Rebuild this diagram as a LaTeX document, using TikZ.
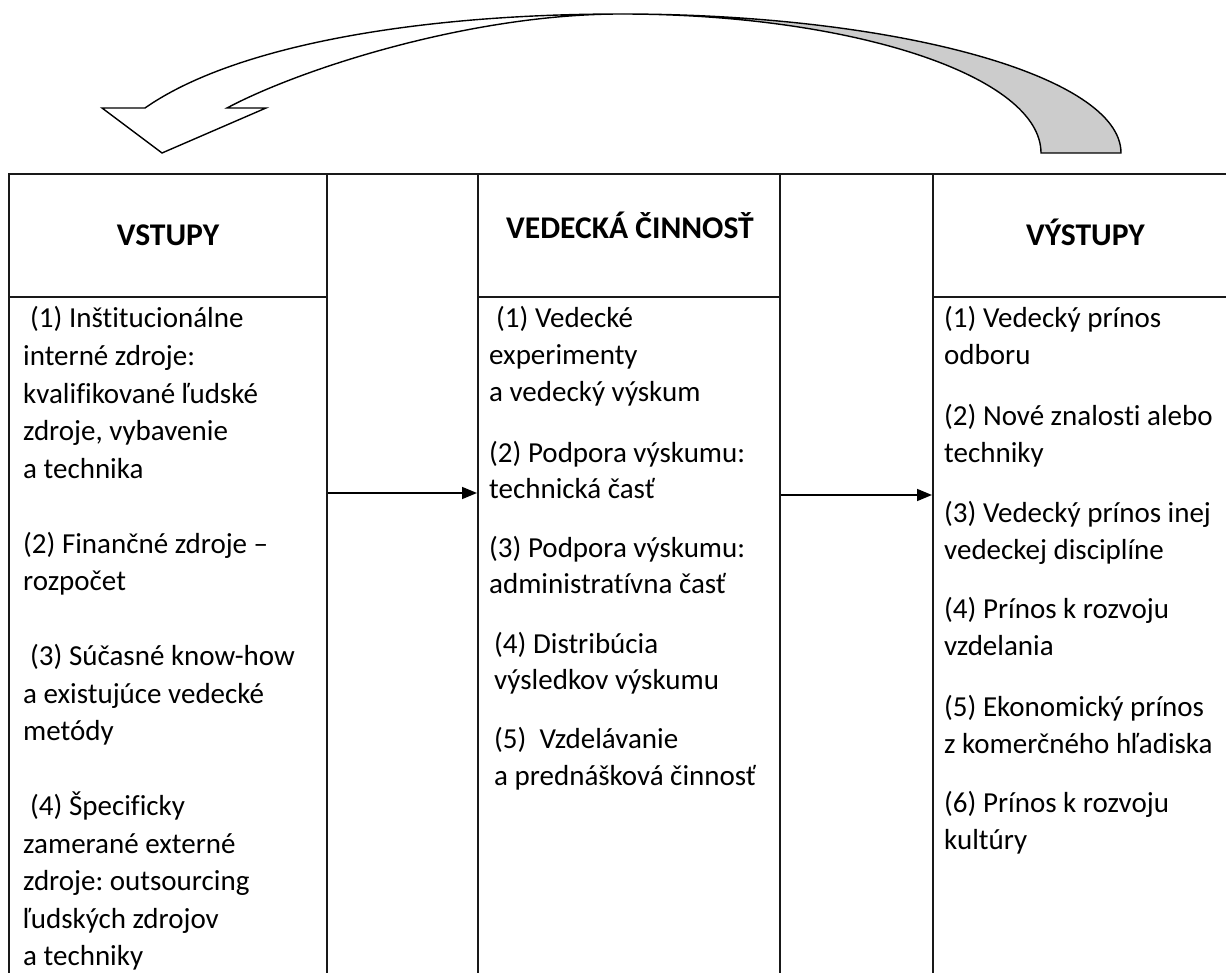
\documentclass[tikz,border=0pt]{standalone}
\usepackage{fontspec}
\setmainfont{Carlito}[Ligatures={NoCommon}]
\usetikzlibrary{arrows.meta}
\definecolor{bandgrey}{RGB}{204,204,204}
\frenchspacing
\tikzset{
  tbl/.style={line width=1.7pt, black!90},
  hdr/.style={font=\fontsize{31.6}{38}\selectfont\bfseries, inner sep=0pt, anchor=base},
  body/.style={font=\fontsize{29}{36}\selectfont, inner sep=0pt, anchor=base west},
  conn/.style={line width=1.6pt, -{Triangle[length=15pt,width=12pt]}},
  bandline/.style={line width=1.4pt, line join=miter},
}
\begin{document}
\begin{tikzpicture}[x=1pt,y=-1pt]
\useasboundingbox (0,0) rectangle (1226,973);

% curved return arrow
\coordinate (top) at (621,14);
\coordinate (rOut) at (1121,153);
\coordinate (rIn) at (1041,153);
\coordinate (lOut) at (145,108);
\coordinate (lIn) at (227,108);
\coordinate (barbL) at (102,108);
\coordinate (tip) at (162,153);
\coordinate (barbR) at (266,108);
\fill[bandgrey] (top) arc[start angle=90, end angle=0, x radius=500pt, y radius=139pt]
  -- (rIn) arc[start angle=0, end angle=90, x radius=420pt, y radius=139pt] -- cycle;
\draw[bandline] (rOut) arc[start angle=0, end angle=90, x radius=500pt, y radius=139pt]
  .. controls (420,14) and (235,45) .. (lOut)
  -- (barbL) -- (tip) -- (barbR) -- (lIn)
  .. controls (300,69) and (470,14) .. (top)
  arc[start angle=90, end angle=0, x radius=420pt, y radius=139pt] -- cycle;

% table lines
\draw[tbl] (9,973) -- (9,174) -- (1230,174);
\draw[tbl] (327,174) -- (327,973);
\draw[tbl] (478,174) -- (478,973);
\draw[tbl] (780,174) -- (780,973);
\draw[tbl] (933,174) -- (933,973);
\draw[tbl] (9,297) -- (327,297);
\draw[tbl] (478,297) -- (780,297);
\draw[tbl] (933,297) -- (1230,297);

% headers
\node[hdr] (hin)  at (168,246)  {VSTUPY};
\node[hdr] (hmid) at (630,239)  {VEDECKÁ ČINNOSŤ};
\node[hdr] (hout) at (1085.5,246) {VÝSTUPY};

% inputs column
\foreach \yy/\xx/\txt [count=\i] in {
  328/30/{(1) Inštitucionálne},
  365.5/23/{interné zdroje:},
  403/23/{kvalifikované ľudské},
  440.5/23/{zdroje, vybavenie},
  478/23/{a technika},
  553/23/{(2) Finančné zdroje –},
  590.5/23/{rozpočet},
  665.5/30/{(3) Súčasné know-how},
  703/23/{a existujúce vedecké},
  740.5/23/{metódy},
  815.5/30/{(4) Špecificky},
  853/23/{zamerané externé},
  890.5/23/{zdroje: outsourcing},
  928/23/{ľudských zdrojov},
  965.5/23/{a techniky}}
  \node[body] (in\i) at (\xx,\yy) {\txt};

% activity column
\foreach \yy/\xx/\txt [count=\i] in {
  328/496/{(1) Vedecké},
  365/489/{experimenty},
  402/489/{a vedecký výskum},
  462/489/{(2) Podpora výskumu:},
  498/489/{technická časť},
  557/489/{(3) Podpora výskumu:},
  593/489/{administratívna časť},
  653/494/{(4) Distribúcia},
  689/494/{výsledkov výskumu},
  748/494/{(5)\ \ Vzdelávanie},
  785/494/{a prednášková činnosť}}
  \node[body] (act\i) at (\xx,\yy) {\txt};

% outputs column
\foreach \yy/\txt [count=\i] in {
  328/{(1) Vedecký prínos},
  365/{odboru},
  425/{(2) Nové znalosti alebo},
  462/{techniky},
  522/{(3) Vedecký prínos inej},
  559/{vedeckej disciplíne},
  618.5/{(4) Prínos k rozvoju},
  655.5/{vzdelania},
  716/{(5) Ekonomický prínos},
  753/{z komerčného hľadiska},
  812/{(6) Prínos k rozvoju},
  849/{kultúry}}
  \node[body] (out\i) at (944,\yy) {\txt};

% connectors
\coordinate (inR)   at (328,493);
\coordinate (actL)  at (477,493);
\coordinate (actR)  at (781,495);
\coordinate (outL)  at (932,495);
\draw[conn] (inR) -- (actL);
\draw[conn] (actR) -- (outL);
\end{tikzpicture}
\end{document}
